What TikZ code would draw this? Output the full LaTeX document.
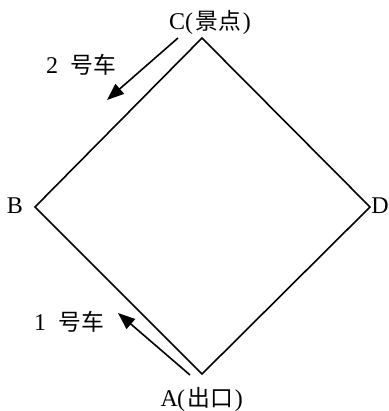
\documentclass[tikz,border=0pt]{standalone}
\usepackage{fontspec}
\setmainfont{Liberation Serif}
\newfontfamily\cjk{Noto Sans CJK SC}[Scale=0.95]
\newcommand{\hw}[1]{\makebox[0.5em]{#1}}
\usetikzlibrary{arrows.meta}
\begin{document}
\begin{tikzpicture}[x=1pt,y=-1pt,
  edge/.style={line width=1.6pt},
  carrow/.style={line width=1.6pt,-{Triangle[length=17pt,width=13pt]}},
  lbl/.style={inner sep=0pt,font=\fontsize{24}{28}\selectfont}]
\useasboundingbox (0,0) rectangle (388,411);
\coordinate (C) at (202,38);
\coordinate (B) at (35,207);
\coordinate (A) at (202,374);
\coordinate (D) at (370,207);
\draw[edge,line join=miter] (C) -- (D) -- (A) -- (B) -- cycle;
\node[lbl] (lc) at (212,22) {\hw{C}\hw{(}{\cjk 景点}\hw{)}};
\node[lbl] (lb) at (15,206) {B};
\node[lbl] (ld) at (380,206) {D};
\node[lbl] (la) at (204,399) {\hw{A}\hw{(}{\cjk 出口}\hw{)}};
\node[lbl] (l2) at (81,65) {\hw{2}\hw{ }{\cjk 号车}};
\node[lbl] (l1) at (69,322) {\hw{1}\hw{ }{\cjk 号车}};
\coordinate (s2) at (178,38);
\coordinate (t2) at (107,100);
\coordinate (s1) at (190,375);
\coordinate (t1) at (118,313);
\draw[carrow] (s2) -- (t2);
\draw[carrow] (s1) -- (t1);
\end{tikzpicture}
\end{document}
